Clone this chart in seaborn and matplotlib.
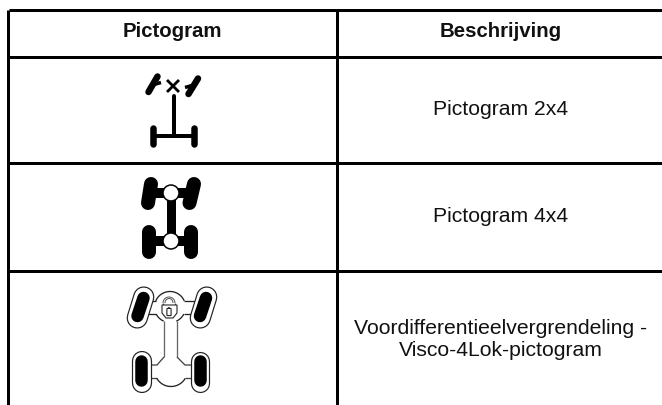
import matplotlib
matplotlib.use("Agg")
import matplotlib.pyplot as plt
import numpy as np
import seaborn as sns
from matplotlib.patches import Circle, Arc, FancyBboxPatch, Polygon

# table contents
headers = ['Pictogram', 'Beschrijving']
descriptions = ['Pictogram 2x4', 'Pictogram 4x4',
                'Voordifferentieelvergrendeling -', 'Visco-4Lok-pictogram']

# table layout, in pixels of the picture
row_rules = [9.5, 56.5, 163, 270.5]
col_rules = [7.5, 336.5]
header_y = 37
row_text_y = [115, 222, 334, 356]
col_text_x = [172.5, 501]

sns.set_theme(style="white")
plt.rcParams['font.family'] = ['Liberation Sans', 'DejaVu Sans']

W, H = 662, 405
fig = plt.figure(figsize=(W / 100, H / 100), dpi=100)
ax = fig.add_axes([0, 0, 1, 1])
ax.set_xlim(0, W)
ax.set_ylim(H, 0)
ax.axis('off')
sns.despine(ax=ax, left=True, bottom=True)


def px(n):
    # line widths are in points, the picture is at 100 dpi
    return n * 0.72


def stroke(xs, ys, width, color='black', cap='round', z=2):
    ax.plot(xs, ys, color=color, lw=px(width), solid_capstyle=cap, zorder=z)


def thin(xs, ys, z=3, color='#222222'):
    stroke(xs, ys, 1.3, color=color, cap='butt', z=z)


def arc(cx, cy, r, start, end, color='#222222'):
    t = np.radians(np.linspace(start, end, 30))
    thin(cx + r * np.cos(t), cy + r * np.sin(t), color=color)


# grid
for y in row_rules:
    stroke([9, W], [y, y], 3, cap='butt')
for x in col_rules:
    stroke([x, x], [10, H], 3, cap='butt')

# text
for x, label in zip(col_text_x, headers):
    ax.text(x, header_y, label, ha='center', va='baseline', fontsize=14.7,
            fontweight='bold', color='#111111')
for y, label in zip(row_text_y, descriptions):
    ax.text(col_text_x[1], y, label, ha='center', va='baseline', fontsize=15.2,
            color='#111111')

# 2x4 pictogram
stroke([148.5, 157.5], [92, 76.5], 6.5)
stroke([154, 161], [84.5, 82.5], 3.5, cap='butt')
stroke([188.5, 198], [94, 78.5], 6.5)
stroke([185, 192], [87.5, 85.5], 3.5, cap='butt')
stroke([167, 179], [80, 92], 2.8, cap='butt')
stroke([179, 167], [80, 92], 2.8, cap='butt')
stroke([173.5, 173.5], [96, 135], 4)
stroke([153, 194], [135.5, 135.5], 4, cap='butt')
stroke([153, 153], [128, 144], 6.5)
stroke([194, 194], [128, 144], 6.5)

# 4x4 pictogram
stroke([148, 151], [203, 184], 14)
stroke([194, 189.5], [184, 203], 14)
stroke([149, 149], [232, 252], 14)
stroke([191, 191], [232, 252], 14)
stroke([150, 193], [193, 193], 10, cap='butt')
stroke([150, 191], [241, 241], 10, cap='butt')
stroke([170.5, 170.5], [193, 241], 9, cap='butt')
for cy in [193, 241]:
    ax.add_patch(Circle((171, cy), 8, fc='white', ec='black', lw=px(1.5), zorder=3))

# Visco-4Lok pictogram: body outline first, wheels go on top
arc(170, 307, 15.5, -157, -23)
arc(170, 307, 15.5, 27, 66)
arc(170, 307, 15.5, 114, 153)
thin([145, 156], [301, 301])
thin([145, 156], [314, 314])
thin([184, 200], [301, 301])
thin([184, 200], [314, 314])
thin([164, 164], [321, 357], color='#666666')
thin([177, 177], [321, 357], color='#666666')
thin([164, 157, 145], [357, 365, 365], color='#444444')
thin([177, 185, 197], [357, 365, 365], color='#444444')
thin([145, 157], [378, 378], color='#444444')
thin([185, 197], [378, 378], color='#444444')
arc(171, 370, 16.5, 30, 150)

# outlined tyres: black, white, then the black tread
tyres = [([143.75, 137.25], [297, 318], ([143.5, 137.5], [298, 316]), 20),
         ([200.25, 206.75], [318, 297], ([200, 206], [316, 298]), 20),
         ([141.5, 141.5], [361, 383], ([141, 141], [361, 380]), 19),
         ([199.5, 199.5], [361, 383], ([199.5, 199.5], [361, 380]), 18)]
for xs, ys, tread, outer in tyres:
    stroke(xs, ys, outer + 1.2, color='#222222', z=4)
    stroke(xs, ys, outer - 1.2, color='white', z=4)
    stroke(tread[0], tread[1], 12.5, z=4)

# lock
ax.add_patch(Arc((169, 303), 12, 12, theta1=180, theta2=360, ec='#555555', lw=px(1), zorder=5))
ax.add_patch(Arc((169, 303), 8, 9, theta1=180, theta2=360, ec='#555555', lw=px(1), zorder=5))
thin([163, 163], [303, 305], z=5, color='#555555')
thin([175, 175], [303, 305], z=5, color='#555555')
ax.add_patch(Polygon([(162, 305), (177, 305), (177, 313), (173, 318), (166, 318), (162, 313)],
                     closed=True, fc='white', ec='#222222', lw=px(1.1), zorder=5))
ax.add_patch(FancyBboxPatch((167.5, 309), 3, 6, boxstyle='round,pad=0.6', fc='white',
                            ec='#222222', lw=px(1.1), zorder=6))
stroke([169, 169], [307, 309], 1.5, color='#222222', cap='butt', z=6)

fig.savefig('out.png', dpi=100, facecolor='white')
